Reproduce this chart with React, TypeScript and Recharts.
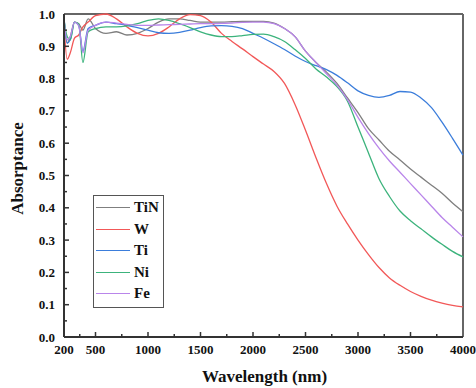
import { Line, LineChart, ReferenceLine, XAxis, YAxis } from 'recharts';

const wavelengths = [
  200, 230, 260, 300, 340, 380, 430, 500, 600, 700, 800, 900, 1000, 1100, 1200, 1300, 1400,
  1500, 1600, 1700, 1800, 1900, 2000, 2100, 2200, 2300, 2400, 2500, 2600, 2700, 2800, 2900,
  3000, 3100, 3200, 3300, 3400, 3500, 3600, 3700, 3800, 3900, 4000,
];

const tinValues = [
  0.99, 0.91, 0.93, 0.975, 0.97, 0.95, 0.985, 0.955, 0.94, 0.945, 0.935, 0.94, 0.955, 0.975,
  0.985, 0.985, 0.98, 0.975, 0.975, 0.975, 0.976, 0.977, 0.977, 0.977, 0.972, 0.955, 0.93,
  0.885, 0.85, 0.82, 0.785, 0.74, 0.695, 0.645, 0.61, 0.575, 0.548, 0.52, 0.495, 0.47, 0.445,
  0.415, 0.388,
];

const wValues = [
  0.97, 0.86, 0.88, 0.925, 0.935, 0.96, 0.975, 0.995, 1.0, 0.985, 0.96, 0.94, 0.932, 0.94,
  0.96, 0.985, 0.998, 0.995, 0.975, 0.94, 0.915, 0.892, 0.868, 0.845, 0.822, 0.785, 0.72,
  0.64, 0.555, 0.475, 0.405, 0.35, 0.3, 0.255, 0.215, 0.183, 0.16, 0.141, 0.126, 0.114, 0.105,
  0.098, 0.093,
];

const tiValues = [
  0.99, 0.91, 0.92, 0.975, 0.965, 0.885, 0.955, 0.965, 0.975, 0.97, 0.965, 0.958, 0.95, 0.942,
  0.94, 0.943, 0.95, 0.958, 0.963, 0.964, 0.962, 0.955, 0.94, 0.925, 0.908, 0.89, 0.87, 0.853,
  0.84, 0.828, 0.81, 0.787, 0.762, 0.748, 0.742, 0.748, 0.76, 0.758, 0.74, 0.71, 0.665, 0.615,
  0.563,
];

const niValues = [
  0.98, 0.93, 0.92, 0.975, 0.97, 0.85, 0.945, 0.955, 0.96, 0.96, 0.963, 0.97, 0.98, 0.985,
  0.98, 0.97, 0.958, 0.945, 0.935, 0.93, 0.93, 0.933, 0.937, 0.938, 0.93, 0.915, 0.89, 0.862,
  0.83, 0.805, 0.775, 0.73, 0.65, 0.57, 0.49, 0.435, 0.39, 0.36, 0.335, 0.31, 0.287, 0.265,
  0.248,
];

const feValues = [
  0.98, 0.92, 0.93, 0.975, 0.965, 0.88, 0.95, 0.965, 0.975, 0.972, 0.968, 0.965, 0.965, 0.966,
  0.967, 0.968, 0.969, 0.97, 0.97, 0.971, 0.972, 0.974, 0.975, 0.975, 0.97, 0.955, 0.93, 0.885,
  0.85, 0.815, 0.78, 0.735, 0.68, 0.63, 0.585, 0.545, 0.51, 0.475, 0.44, 0.405, 0.37, 0.34, 0.31,
];

const series = [
  { key: 'TiN', color: '#7f7f7f' },
  { key: 'W', color: '#f25858' },
  { key: 'Ti', color: '#3b7ddb' },
  { key: 'Ni', color: '#3cb37c' },
  { key: 'Fe', color: '#b985ea' },
];

const xTicks = [200, 350, 500, 750, 1000, 1250, 1500, 1750, 2000, 2250, 2500, 2750, 3000, 3250, 3500, 3750, 4000];
const yTicks = [0, 0.05, 0.1, 0.15, 0.2, 0.25, 0.3, 0.35, 0.4, 0.45, 0.5, 0.55, 0.6, 0.65, 0.7, 0.75, 0.8, 0.85, 0.9, 0.95, 1.0];

const data = wavelengths.map((wl, i) => ({
  wl,
  TiN: tinValues[i],
  W: wValues[i],
  Ti: tiValues[i],
  Ni: niValues[i],
  Fe: feValues[i],
}));

const font = '"Liberation Serif", "Times New Roman", serif';
const axisColor = '#333';

const XTick = ({ x, y, payload }: any) => {
  const v = payload.value as number;
  const major = v === 200 || v % 500 === 0;
  return (
    <g>
      {v !== 200 && v !== 4000 ? (
        <line x1={x} x2={x} y1={y} y2={y - (major ? 5 : 3)} stroke={axisColor} strokeWidth={1.5} />
      ) : null}
      {major ? (
        <text x={x} y={y + 17} textAnchor="middle" fontFamily={font} fontWeight="bold" fontSize={13} fill="#111">
          {v}
        </text>
      ) : null}
    </g>
  );
};

const YTick = ({ x, y, payload, index }: any) => {
  const v = payload.value as number;
  const major = index % 2 === 0;
  return (
    <g>
      {v !== 0 && v !== 1 ? (
        <line x1={x} x2={x + (major ? 5 : 3)} y1={y} y2={y} stroke={axisColor} strokeWidth={1.5} />
      ) : null}
      {major ? (
        <text x={x - 9} y={y + 4.5} textAnchor="end" fontFamily={font} fontWeight="bold" fontSize={13} fill="#111">
          {v.toFixed(1)}
        </text>
      ) : null}
    </g>
  );
};

// legend drawn as an overlay so it doesn't eat into the plot area
const LegendBox = () => (
  <div
    style={{
      position: 'absolute',
      left: 93,
      top: 195,
      border: '1px solid #555',
      background: '#fff',
      width: 71,
      padding: '1px 0 2px 0',
      fontFamily: font,
      fontWeight: 'bold',
      fontSize: 15,
      color: '#111',
      boxSizing: 'border-box',
    }}
  >
    {series.map((s) => (
      <div key={s.key} style={{ display: 'flex', alignItems: 'center', height: 21.5 }}>
        <div style={{ width: 34, height: 0, borderTop: `1.5px solid ${s.color}`, marginLeft: 2, marginRight: 4 }} />
        <span>{s.key}</span>
      </div>
    ))}
  </div>
);

export default function App() {
  return (
    <div style={{ position: 'absolute', left: 0, top: 0, width: 476, height: 388, background: '#fff' }}>
      <LineChart width={476} height={388} data={data} margin={{ top: 14, right: 13, bottom: 0, left: 0 }}>
        <XAxis
          dataKey="wl"
          type="number"
          domain={[200, 4000]}
          ticks={xTicks}
          interval={0}
          height={51}
          tickSize={0}
          tickMargin={0}
          tickLine={false}
          tick={<XTick />}
          axisLine={{ stroke: axisColor, strokeWidth: 2 }}
          label={{
            content: ({ viewBox }: any) => (
              <text
                x={viewBox.x + viewBox.width / 2 + 1}
                y={viewBox.y + 45}
                textAnchor="middle"
                fontFamily={font}
                fontWeight="bold"
                fontSize={17}
                fill="#111"
              >
                Wavelength (nm)
              </text>
            ),
          }}
        />
        <YAxis
          type="number"
          domain={[0, 1]}
          ticks={yTicks}
          interval={0}
          width={64}
          tickSize={0}
          tickMargin={0}
          tickLine={false}
          tick={<YTick />}
          axisLine={{ stroke: axisColor, strokeWidth: 2 }}
          label={{
            content: ({ viewBox }: any) => {
              const cx = 17;
              const cy = viewBox.y + viewBox.height / 2 - 7;
              return (
                <text
                  x={cx}
                  y={cy}
                  transform={`rotate(-90 ${cx} ${cy})`}
                  textAnchor="middle"
                  dominantBaseline="central"
                  fontFamily={font}
                  fontWeight="bold"
                  fontSize={17}
                  fill="#111"
                >
                  Absorptance
                </text>
              );
            },
          }}
        />
        <ReferenceLine y={1} stroke="#666" strokeWidth={2} />
        <ReferenceLine x={4000} stroke="#666" strokeWidth={2} />
        {series.map((s) => (
          <Line
            key={s.key}
            dataKey={s.key}
            type="monotone"
            stroke={s.color}
            strokeWidth={1.3}
            dot={false}
            isAnimationActive={false}
          />
        ))}
      </LineChart>
      <LegendBox />
    </div>
  );
}
